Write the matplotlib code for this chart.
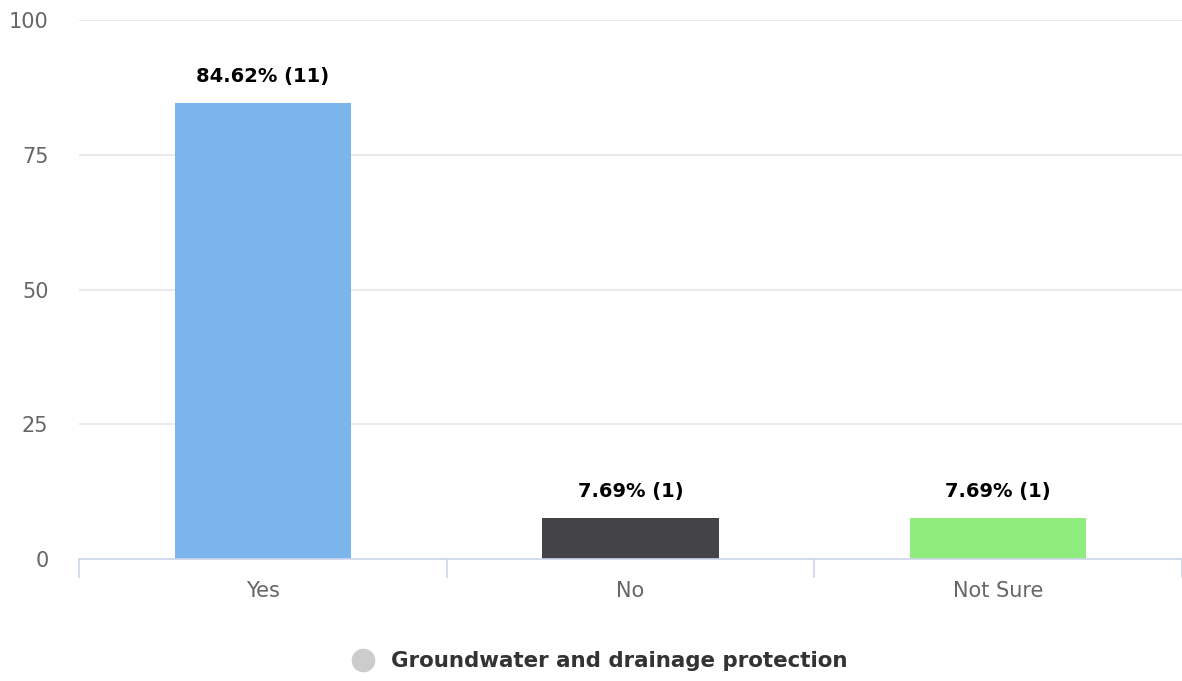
import matplotlib.pyplot as plt
from matplotlib.lines import Line2D

categories = ["Yes", "No", "Not Sure"]
percents = [84.62, 7.69, 7.69]
counts = [11, 1, 1]
colors = ["#7cb5ec", "#434348", "#90ed7d"]
series_name = "Groundwater and drainage protection"

plt.rcParams["font.family"] = ["DejaVu Sans"]

fig = plt.figure(figsize=(11.82, 6.81), dpi=100)
ax = fig.add_axes([79 / 1182, 122 / 681, 1103 / 1182, 539 / 681])

x = list(range(len(categories)))
ax.bar(x, percents, width=0.48, color=colors, zorder=3)

for xi, p, c in zip(x, percents, counts):
    ax.annotate(f"{p:.2f}% ({c})", (xi, p), xytext=(0, 12), textcoords="offset points",
                ha="center", va="bottom", fontsize=14, fontweight="bold", color="#000000")

ax.set_xlim(-0.5, len(categories) - 0.5)
ax.set_ylim(0, 100)
ax.set_yticks([0, 25, 50, 75, 100])
ax.yaxis.grid(True, color="#e6e6e6", linewidth=1.2, zorder=0)
ax.tick_params(axis="y", length=0, pad=22, labelsize=15, labelcolor="#666666")

# category labels at the centres, tick marks at the boundaries
ax.set_xticks(x)
ax.set_xticklabels(categories)
ax.tick_params(axis="x", which="major", length=0, pad=16, labelsize=15, labelcolor="#666666")
ax.set_xticks([i - 0.5 for i in range(len(categories) + 1)], minor=True)
ax.tick_params(axis="x", which="minor", length=14, width=1.2, color="#ccd6eb", direction="out")

for side in ["top", "right", "left"]:
    ax.spines[side].set_visible(False)
ax.spines["bottom"].set_color("#ccd6eb")
ax.spines["bottom"].set_linewidth(1.2)
ax.spines["bottom"].set_zorder(4)

# legend
handle = Line2D([], [], marker="o", linestyle="none", markersize=16,
                markerfacecolor="#cccccc", markeredgecolor="#cccccc")
leg = fig.legend([handle], [series_name], loc="center", bbox_to_anchor=(0.503, 20 / 681),
                 frameon=False, handletextpad=0.3, prop={"size": 15.4, "weight": "bold"})
for t in leg.get_texts():
    t.set_color("#333333")

fig.savefig("out.png", dpi=100)
